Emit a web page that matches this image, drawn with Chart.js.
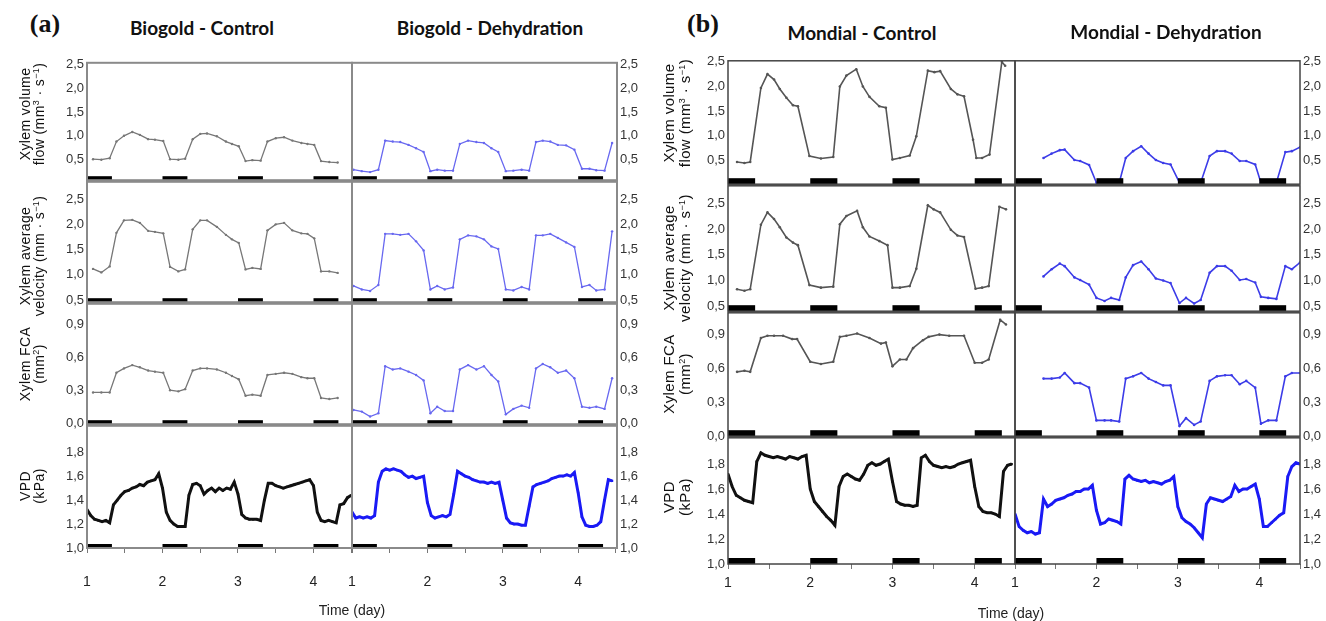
<!DOCTYPE html>
<html>
<head>
<meta charset="utf-8">
<script src="https://cdn.jsdelivr.net/npm/chart.js"></script>
<style>
  body { margin: 0; width: 1326px; height: 621px; position: relative; overflow: hidden; background: #fff; font-family: "Liberation Sans", Arial, sans-serif; }
  canvas { position: absolute; }
  .lbl { position: absolute; white-space: nowrap; transform: translate(-50%, -50%); color: #111; }
  .rot { transform: translate(-50%, -50%) rotate(-90deg); text-align: center; letter-spacing: 0.4px; }
  .ttl { font-family: Lato, "Open Sans", sans-serif; font-weight: 700; font-size: 19px; }
  .pan { font-family: "Liberation Serif", serif; font-weight: 700; font-size: 26px; }
  .axt { font-family: "Liberation Sans Narrow", "Liberation Sans", sans-serif; font-size: 14px; color: #222; }
  sup { font-size: 9px; vertical-align: 5px; line-height: 0; }
</style>
</head>
<body>
<script>
// night periods (black bars)
const nightStart = [1, 2, 3, 4];
const nightEnd = [1.33, 2.33, 3.33, 4.33];
const xTicks = [1, 1.5, 2, 2.5, 3, 3.5, 4, 4.5];

// y tick labels per row
const flowTicks = [0.5, 1.0, 1.5, 2.0, 2.5];
const velTicks = [0.5, 1.0, 1.5, 2.0, 2.5];
const fcaTicks = [0.0, 0.3, 0.6, 0.9];
const vpdTicks = [1.0, 1.2, 1.4, 1.6, 1.8];

// Biogold - Control
const bgCtrlT = [1.08, 1.19, 1.30, 1.39, 1.49, 1.60, 1.70, 1.81, 1.90, 2.01, 2.10, 2.21, 2.30, 2.40, 2.50, 2.59, 2.72, 2.84, 2.92, 3.01, 3.10, 3.19, 3.30, 3.39, 3.50, 3.61, 3.72, 3.84, 3.92, 4.01, 4.10, 4.21, 4.32];
const bgCtrlFlow = [0.51, 0.50, 0.53, 0.88, 1.00, 1.08, 1.02, 0.93, 0.92, 0.89, 0.51, 0.50, 0.52, 0.93, 1.04, 1.05, 0.99, 0.88, 0.83, 0.78, 0.47, 0.49, 0.48, 0.88, 0.95, 0.97, 0.90, 0.85, 0.83, 0.81, 0.47, 0.45, 0.44];
const bgCtrlVel = [1.12, 1.05, 1.17, 1.84, 2.09, 2.10, 2.04, 1.88, 1.86, 1.83, 1.16, 1.07, 1.11, 1.91, 2.09, 2.09, 1.96, 1.80, 1.71, 1.64, 1.11, 1.14, 1.12, 1.89, 2.01, 2.04, 1.89, 1.83, 1.82, 1.73, 1.07, 1.07, 1.04];
const bgCtrlFca = [0.28, 0.28, 0.28, 0.46, 0.50, 0.53, 0.51, 0.48, 0.47, 0.46, 0.30, 0.29, 0.31, 0.48, 0.50, 0.50, 0.49, 0.46, 0.43, 0.40, 0.25, 0.26, 0.25, 0.44, 0.45, 0.46, 0.45, 0.42, 0.41, 0.41, 0.23, 0.22, 0.23];

// Biogold - Dehydration
const bgDehT = [1.02, 1.13, 1.24, 1.35, 1.44, 1.54, 1.64, 1.75, 1.85, 1.95, 2.04, 2.13, 2.23, 2.34, 2.43, 2.54, 2.65, 2.75, 2.85, 2.94, 3.04, 3.14, 3.25, 3.35, 3.44, 3.53, 3.63, 3.73, 3.84, 3.95, 4.05, 4.15, 4.24, 4.35, 4.45];
const bgDehFlow = [0.29, 0.26, 0.24, 0.29, 0.90, 0.88, 0.87, 0.81, 0.74, 0.66, 0.26, 0.29, 0.27, 0.27, 0.83, 0.90, 0.87, 0.85, 0.74, 0.66, 0.26, 0.27, 0.29, 0.27, 0.87, 0.90, 0.88, 0.81, 0.80, 0.71, 0.31, 0.31, 0.28, 0.27, 0.85];
const bgDehVel = [0.78, 0.71, 0.68, 0.80, 1.82, 1.82, 1.80, 1.82, 1.67, 1.49, 0.71, 0.78, 0.71, 0.75, 1.71, 1.79, 1.77, 1.71, 1.57, 1.52, 0.71, 0.69, 0.76, 0.71, 1.79, 1.79, 1.82, 1.74, 1.65, 1.56, 0.76, 0.80, 0.69, 0.71, 1.87];
const bgDehFca = [0.12, 0.105, 0.06, 0.09, 0.52, 0.49, 0.50, 0.47, 0.44, 0.39, 0.09, 0.15, 0.11, 0.11, 0.49, 0.53, 0.49, 0.52, 0.44, 0.38, 0.08, 0.13, 0.16, 0.14, 0.50, 0.54, 0.51, 0.46, 0.48, 0.41, 0.15, 0.14, 0.15, 0.13, 0.41];

// Mondial - Control
const mcFlowT = [1.11, 1.20, 1.27, 1.40, 1.48, 1.56, 1.63, 1.71, 1.79, 1.85, 1.99, 2.13, 2.28, 2.36, 2.44, 2.56, 2.64, 2.72, 2.84, 2.92, 3.00, 3.09, 3.21, 3.29, 3.43, 3.51, 3.58, 3.71, 3.79, 3.87, 3.98, 4.02, 4.09, 4.18, 4.33, 4.37];
const mcFlow = [0.47, 0.45, 0.47, 1.97, 2.25, 2.14, 1.95, 1.77, 1.62, 1.60, 0.59, 0.54, 0.57, 2.00, 2.22, 2.35, 2.00, 1.79, 1.60, 1.57, 0.52, 0.55, 0.60, 0.99, 2.32, 2.29, 2.31, 1.95, 1.84, 1.80, 0.92, 0.55, 0.55, 0.62, 2.50, 2.42];
const mcVelT = [1.11, 1.20, 1.27, 1.40, 1.48, 1.56, 1.63, 1.71, 1.79, 1.85, 1.99, 2.13, 2.28, 2.36, 2.44, 2.57, 2.64, 2.72, 2.84, 2.94, 3.00, 3.09, 3.21, 3.29, 3.43, 3.50, 3.58, 3.71, 3.79, 3.87, 4.01, 4.09, 4.17, 4.30, 4.38];
const mcVel = [0.83, 0.80, 0.83, 2.09, 2.33, 2.20, 2.04, 1.84, 1.74, 1.69, 0.91, 0.86, 0.88, 2.10, 2.26, 2.36, 2.04, 1.86, 1.77, 1.69, 0.86, 0.86, 0.89, 1.23, 2.47, 2.39, 2.33, 1.99, 1.88, 1.85, 0.84, 0.86, 0.89, 2.44, 2.39];
const mcFcaT = [1.11, 1.20, 1.27, 1.40, 1.48, 1.56, 1.67, 1.78, 1.84, 2.00, 2.13, 2.28, 2.36, 2.44, 2.57, 2.72, 2.86, 2.92, 3.00, 3.09, 3.17, 3.25, 3.37, 3.44, 3.57, 3.69, 3.87, 4.00, 4.09, 4.17, 4.31, 4.38];
const mcFca = [0.57, 0.58, 0.57, 0.87, 0.89, 0.89, 0.89, 0.86, 0.86, 0.66, 0.64, 0.66, 0.88, 0.89, 0.91, 0.87, 0.82, 0.83, 0.62, 0.68, 0.68, 0.78, 0.85, 0.88, 0.90, 0.89, 0.89, 0.65, 0.65, 0.68, 1.03, 0.99];

// Mondial - Dehydration
const mdT = [1.35, 1.45, 1.55, 1.61, 1.73, 1.80, 1.91, 2.00, 2.10, 2.18, 2.28, 2.36, 2.45, 2.55, 2.64, 2.73, 2.82, 2.91, 3.02, 3.10, 3.20, 3.28, 3.39, 3.48, 3.58, 3.66, 3.76, 3.84, 3.95, 4.02, 4.11, 4.21, 4.32, 4.40, 4.50];
const mdFlow = [0.55, 0.64, 0.71, 0.72, 0.51, 0.49, 0.41, 0.05, 0.05, 0.05, 0.05, 0.55, 0.69, 0.79, 0.64, 0.51, 0.45, 0.42, 0.05, 0.05, 0.05, 0.05, 0.59, 0.69, 0.69, 0.64, 0.49, 0.49, 0.42, 0.05, 0.05, 0.05, 0.67, 0.69, 0.77];
const mdVel = [1.08, 1.22, 1.33, 1.28, 1.06, 1.01, 0.92, 0.66, 0.60, 0.66, 0.62, 1.06, 1.30, 1.37, 1.22, 1.04, 1.00, 0.95, 0.56, 0.66, 0.55, 0.62, 1.15, 1.28, 1.28, 1.19, 1.01, 1.03, 0.96, 0.68, 0.66, 0.64, 1.28, 1.22, 1.35];
const mdFca = [0.51, 0.51, 0.52, 0.56, 0.47, 0.47, 0.43, 0.14, 0.14, 0.14, 0.13, 0.51, 0.53, 0.56, 0.51, 0.48, 0.45, 0.45, 0.09, 0.16, 0.10, 0.13, 0.49, 0.53, 0.54, 0.54, 0.46, 0.49, 0.43, 0.11, 0.14, 0.14, 0.53, 0.56, 0.56];

// VPD logger, every 0.05 day
const vpdT = [1.00, 1.05, 1.10, 1.15, 1.20, 1.25, 1.30, 1.35, 1.40, 1.45,
  1.50, 1.55, 1.60, 1.65, 1.70, 1.75, 1.80, 1.85, 1.90, 1.95,
  2.00, 2.05, 2.10, 2.15, 2.20, 2.25, 2.30, 2.35, 2.40, 2.45,
  2.50, 2.55, 2.60, 2.65, 2.70, 2.75, 2.80, 2.85, 2.90, 2.95,
  3.00, 3.05, 3.10, 3.15, 3.20, 3.25, 3.30, 3.35, 3.40, 3.45,
  3.50, 3.55, 3.60, 3.65, 3.70, 3.75, 3.80, 3.85, 3.90, 3.95,
  4.00, 4.05, 4.10, 4.15, 4.20, 4.25, 4.30, 4.35, 4.40, 4.45, 4.50];
const bgCtrlVpd = [1.32, 1.27, 1.24, 1.23, 1.22, 1.23, 1.21, 1.36, 1.40, 1.44,
  1.47, 1.48, 1.50, 1.51, 1.53, 1.52, 1.55, 1.56, 1.57, 1.62,
  1.50, 1.30, 1.23, 1.20, 1.18, 1.18, 1.18, 1.44, 1.53, 1.54,
  1.52, 1.45, 1.48, 1.50, 1.47, 1.50, 1.48, 1.50, 1.49, 1.55,
  1.45, 1.28, 1.25, 1.24, 1.24, 1.24, 1.23, 1.40, 1.54, 1.54,
  1.52, 1.51, 1.50, 1.51, 1.52, 1.53, 1.54, 1.55, 1.56, 1.57,
  1.52, 1.30, 1.23, 1.22, 1.23, 1.22, 1.21, 1.36, 1.37, 1.42, 1.44];
const bgDehVpd = [1.30, 1.25, 1.26, 1.25, 1.26, 1.25, 1.27, 1.55, 1.64, 1.66,
  1.65, 1.66, 1.65, 1.64, 1.61, 1.59, 1.60, 1.58, 1.59, 1.60,
  1.38, 1.27, 1.25, 1.26, 1.27, 1.26, 1.28, 1.45, 1.64, 1.62,
  1.60, 1.59, 1.57, 1.56, 1.55, 1.55, 1.54, 1.55, 1.54, 1.55,
  1.40, 1.25, 1.21, 1.20, 1.20, 1.19, 1.19, 1.35, 1.51, 1.53,
  1.54, 1.55, 1.56, 1.58, 1.59, 1.60, 1.60, 1.61, 1.60, 1.63,
  1.46, 1.26, 1.19, 1.18, 1.18, 1.19, 1.22, 1.40, 1.57, 1.56, null];
const mcVpd = [1.72, 1.62, 1.55, 1.53, 1.51, 1.50, 1.49, 1.82, 1.89, 1.87,
  1.86, 1.85, 1.86, 1.85, 1.84, 1.86, 1.85, 1.84, 1.86, 1.87,
  1.60, 1.50, 1.46, 1.42, 1.38, 1.35, 1.31, 1.62, 1.70, 1.72,
  1.70, 1.68, 1.67, 1.72, 1.79, 1.81, 1.79, 1.80, 1.82, 1.84,
  1.66, 1.50, 1.48, 1.47, 1.47, 1.46, 1.47, 1.85, 1.87, 1.82,
  1.79, 1.78, 1.77, 1.78, 1.77, 1.78, 1.80, 1.81, 1.82, 1.83,
  1.62, 1.46, 1.42, 1.41, 1.41, 1.40, 1.38, 1.74, 1.79, 1.80, null];
const mdVpd = [1.40, 1.30, 1.27, 1.25, 1.26, 1.24, 1.25, 1.52, 1.46, 1.48,
  1.51, 1.52, 1.53, 1.55, 1.56, 1.58, 1.58, 1.60, 1.60, 1.63,
  1.43, 1.32, 1.33, 1.36, 1.35, 1.34, 1.32, 1.68, 1.71, 1.68,
  1.67, 1.66, 1.67, 1.65, 1.66, 1.65, 1.64, 1.66, 1.67, 1.70,
  1.46, 1.37, 1.34, 1.32, 1.29, 1.25, 1.21, 1.48, 1.53, 1.52,
  1.51, 1.50, 1.52, 1.54, 1.63, 1.58, 1.60, 1.60, 1.62, 1.64,
  1.52, 1.30, 1.30, 1.33, 1.36, 1.39, 1.41, 1.70, 1.78, 1.81, 1.80];

const M = 10, AX = 40;
const tickFamily = "'Liberation Sans Narrow', 'Liberation Sans', Arial, sans-serif";

function pts(t, v) { return t.map((x, i) => ({ x: x, y: v[i] })); }
function fmt(v) { return v.toFixed(1).replace('.', ','); }

// night bars + frame, drawn on top of the line
const nightPlugin = {
  id: 'night',
  afterDatasetsDraw(chart, args, o) {
    const { ctx, chartArea: a } = chart;
    const x = chart.scales.x;
    ctx.save();
    ctx.fillStyle = '#000';
    nightStart.forEach((s, i) => {
      const x0 = x.getPixelForValue(s), x1 = x.getPixelForValue(nightEnd[i]);
      ctx.fillRect(x0, a.bottom - o.bar, x1 - x0, o.bar);
    });
    ctx.strokeStyle = o.frame;
    ctx.lineWidth = o.lw;
    ctx.strokeRect(a.left, a.top, a.right - a.left, a.bottom - a.top);
    ctx.restore();
  }
};

function panel(p) {
  const cv = document.createElement('canvas');
  const xh = p.xh || 0;
  cv.width = M + AX + p.w + M;
  cv.height = M + p.h + xh + M;
  cv.style.left = (p.left - M - (p.side === 'left' ? AX : 0)) + 'px';
  cv.style.top = (p.top - M) + 'px';
  document.body.appendChild(cv);
  new Chart(cv, {
    type: 'line',
    data: {
      datasets: [{
        data: p.data,
        borderColor: p.color,
        backgroundColor: p.color,
        borderWidth: p.lw,
        pointRadius: p.pr,
        pointBorderWidth: 0,
        pointStyle: p.ps || 'circle',
        spanGaps: false
      }]
    },
    options: {
      responsive: false,
      animation: false,
      events: [],
      layout: { padding: M },
      plugins: {
        legend: { display: false },
        tooltip: { enabled: false },
        night: p.st
      },
      scales: {
        x: {
          type: 'linear', min: 1, max: p.xMax, display: xh > 0,
          afterBuildTicks: s => { s.ticks = xTicks.filter(v => v <= s.max).map(v => ({ value: v })); },
          afterFit: s => { s.height = xh; s.paddingLeft = 0; s.paddingRight = 0; },
          grid: { drawOnChartArea: false, drawTicks: true, tickLength: 5, color: '#777' },
          border: { display: false },
          ticks: {
            autoSkip: false, maxRotation: 0, padding: p.xPad || 6,
            color: '#222', font: { family: tickFamily, size: 14 },
            callback: v => Number.isInteger(v) ? String(v) : ''
          }
        },
        y: {
          type: 'linear', position: p.side, min: p.yMin, max: p.yMax,
          afterBuildTicks: s => { s.ticks = p.yTicks.map(v => ({ value: v })); },
          afterFit: s => { s.width = AX; },
          grid: { display: false, drawTicks: false },
          border: { display: false },
          ticks: {
            padding: 3, color: '#333',
            font: { family: tickFamily, size: 13 },
            callback: v => fmt(v)
          }
        }
      }
    },
    plugins: [nightPlugin]
  });
}

function label(html, cx, cy, cls, css) {
  const d = document.createElement('div');
  d.className = 'lbl ' + cls;
  d.innerHTML = html;
  d.style.left = cx + 'px';
  d.style.top = cy + 'px';
  if (css) d.style.cssText += css;
  document.body.appendChild(d);
}

// ---- panel (a): Biogold ----
const stA = { bar: 4, frame: '#8a8a8a', lw: 2 };
const rowsA = [
  { top: 62, h: 119, yMin: 0.07, yMax: 2.53, yTicks: flowTicks, c: bgCtrlFlow, d: bgDehFlow },
  { top: 181, h: 122, yMin: 0.455, yMax: 2.86, yTicks: velTicks, c: bgCtrlVel, d: bgDehVel },
  { top: 303, h: 122, yMin: -0.01, yMax: 1.09, yTicks: fcaTicks, c: bgCtrlFca, d: bgDehFca },
  { top: 425, h: 123, yMin: 1.0, yMax: 2.02, yTicks: vpdTicks }
];
rowsA.forEach((r, i) => {
  const vpd = i === 3;
  panel({
    left: 87, top: r.top, w: 265, h: r.h, side: 'left', xMax: 4.51,
    yMin: r.yMin, yMax: r.yMax, yTicks: r.yTicks, st: stA,
    data: vpd ? pts(vpdT, bgCtrlVpd) : pts(bgCtrlT, r.c),
    color: vpd ? '#111' : '#777', lw: vpd ? 3 : 1.3, pr: vpd ? 1.6 : 1.2, ps: vpd ? 'rect' : 'circle',
    xh: vpd ? 46 : 0, xPad: 21
  });
  panel({
    left: 352, top: r.top, w: 265, h: r.h, side: 'right', xMax: 4.515,
    yMin: r.yMin, yMax: r.yMax, yTicks: r.yTicks, st: stA,
    data: vpd ? pts(vpdT, bgDehVpd) : pts(bgDehT, r.d),
    color: vpd ? '#1a1af5' : '#6868f0', lw: vpd ? 3 : 1.3, pr: vpd ? 1.6 : 1.2, ps: vpd ? 'rect' : 'circle',
    xh: vpd ? 46 : 0, xPad: 21
  });
});

// ---- panel (b): Mondial ----
const stB = { bar: 6, frame: '#444', lw: 1.5 };
const rowsB = [
  { top: 60, h: 125, yMin: 0.02, yMax: 2.52, yTicks: flowTicks, c: pts(mcFlowT, mcFlow), d: pts(mdT, mdFlow) },
  { top: 185, h: 127, yMin: 0.40, yMax: 2.85, yTicks: velTicks, c: pts(mcVelT, mcVel), d: pts(mdT, mdVel) },
  { top: 312, h: 125, yMin: 0.0, yMax: 1.093, yTicks: fcaTicks, c: pts(mcFcaT, mcFca), d: pts(mdT, mdFca) },
  { top: 437, h: 127, yMin: 1.0, yMax: 2.01, yTicks: vpdTicks, c: pts(vpdT, mcVpd), d: pts(vpdT, mdVpd) }
];
rowsB.forEach((r, i) => {
  const vpd = i === 3;
  panel({
    left: 728, top: r.top, w: 287, h: r.h, side: 'left', xMax: 4.49,
    yMin: r.yMin, yMax: r.yMax, yTicks: r.yTicks, st: stB, data: r.c,
    color: vpd ? '#111' : '#555', lw: vpd ? 3 : 1.6, pr: vpd ? 1.6 : 1.3, ps: vpd ? 'rect' : 'circle',
    xh: vpd ? 36 : 0, xPad: 6
  });
  panel({
    left: 1015, top: r.top, w: 285, h: r.h, side: 'right', xMax: 4.5,
    yMin: r.yMin, yMax: r.yMax, yTicks: r.yTicks, st: stB, data: r.d,
    color: vpd ? '#1a1af5' : '#3c3ce8', lw: vpd ? 3 : 1.6, pr: vpd ? 1.6 : 1.3, ps: vpd ? 'rect' : 'circle',
    xh: vpd ? 36 : 0, xPad: 6
  });
});

// ---- titles and axis labels ----
label('(a)', 45, 24, 'pan');
label('(b)', 703, 24, 'pan');
label('Biogold - Control', 202, 27, 'ttl');
label('Biogold - Dehydration', 490, 27, 'ttl');
label('Mondial - Control', 862, 32, 'ttl');
label('Mondial - Dehydration', 1166, 31, 'ttl');

const rowText = [
  'Xylem volume<br>flow (mm<sup>3</sup> · s<sup>−1</sup>)',
  'Xylem average<br>velocity (mm · s<sup>−1</sup>)',
  'Xylem FCA<br>(mm<sup>2</sup>)',
  'VPD<br>(kPa)'
];
[114, 256, 364, 486].forEach((y, i) => label(rowText[i], 32, y, 'rot', 'font-size:14px;line-height:14px;'));
[113, 258, 374, 497].forEach((y, i) => label(rowText[i], 677, y, 'rot', 'font-size:15px;line-height:16px;'));

label('Time (day)', 352, 610, 'axt');
label('Time (day)', 1011, 613, 'axt');
</script>
</body>
</html>
